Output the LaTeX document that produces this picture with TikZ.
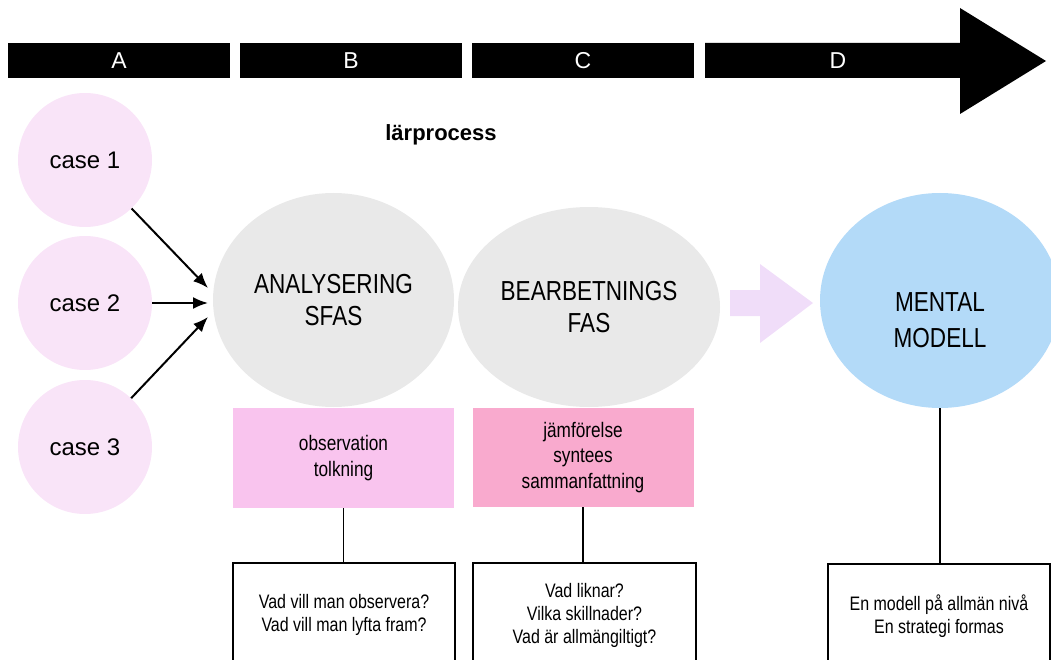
\documentclass[tikz,border=0pt]{standalone}
\usepackage{fontspec}
\setmainfont{Liberation Sans}
\newfontfamily\narrowfont[FakeStretch=0.82]{Liberation Sans}
\usetikzlibrary{positioning,shapes.geometric,arrows.meta}

\definecolor{casepink}{HTML}{F9E4F8}
\definecolor{stagegray}{HTML}{E9E9E9}
\definecolor{modelblue}{HTML}{B3DAF8}
\definecolor{flowlilac}{HTML}{F0DDF9}
\definecolor{taskpink}{HTML}{F9C4EE}
\definecolor{taskrose}{HTML}{F9AACE}

\begin{document}
\begin{tikzpicture}[x=1pt, y=-1pt,
    phase/.style={rectangle, fill=black, text=white, minimum width=222pt, minimum height=35pt, inner sep=0pt, font=\fontsize{23}{23}\selectfont},
    casenode/.style={circle, fill=casepink, minimum size=134pt, inner sep=0pt, font=\fontsize{24}{24}\selectfont},
    stage/.style={ellipse, inner sep=0pt, align=center, font=\narrowfont\fontsize{27.5}{32}\selectfont},
    task/.style={rectangle, minimum width=221pt, minimum height=100pt, inner sep=0pt, align=center, font=\narrowfont\fontsize{21}{25.5}\selectfont},
    question/.style={rectangle, draw=black, line width=2pt, minimum width=222pt, minimum height=104pt, anchor=north, align=center, font=\narrowfont\fontsize{19.5}{23}\selectfont},
    inflow/.style={-{Latex[length=15pt,width=12pt]}, line width=2pt}]
    \useasboundingbox (0,0) rectangle (1051,660);
    \clip (0,0) rectangle (1051,660);

    % time line A-D
    \node (barA) [phase] at (119,60.5) {A};
    \node (barB) [phase, right=232pt of barA.center, anchor=center] {B};
    \node (barC) [phase, right=232pt of barB.center, anchor=center] {C};
    \fill (705,43) -- (960,43) -- (960,8) -- (1046,61) -- (960,114) -- (960,78) -- (705,78) -- cycle;
    \node (barD) [text=white, font=\fontsize{23}{23}\selectfont] at (838,60.5) {D};

    \node (title) [font=\bfseries\fontsize{22}{22}\selectfont] at (441,135) {lärprocess};

    % cases
    \node (case1) [casenode] at (85,160) {case 1};
    \node (case2) [casenode, below=143pt of case1.center, anchor=center] {case 2};
    \node (case3) [casenode, below=144pt of case2.center, anchor=center] {case 3};
    \coordinate (in1) at (208,288);
    \coordinate (in2) at (208,303);
    \coordinate (in3) at (208,317);
    \draw[inflow] (case1) -- (in1);
    \draw[inflow] (case2) -- (in2);
    \draw[inflow] (case3) -- (in3);

    % phases
    \node (analys) [stage, fill=stagegray, minimum width=241pt, minimum height=214pt] at (333.5,300) {ANALYSERING\\SFAS};
    \node (bearb) [stage, fill=stagegray, minimum width=262pt, minimum height=200pt] at (589,307) {BEARBETNINGS\\FAS};
    \fill[flowlilac] (730,290) -- (760,290) -- (760,264) -- (813,303) -- (760,343) -- (760,316) -- (730,316) -- cycle;
    \node (mental) [stage, fill=modelblue, minimum width=240pt, minimum height=215pt,
        label={[stage, font=\narrowfont\fontsize{27.5}{36}\selectfont, yshift=-19.5pt]center:MENTAL\\MODELL}] at (940,300.5) {};

    % activities
    \node (obs) [task, fill=taskpink] at (343.5,458) {observation\\tolkning};
    \node (synt) [task, fill=taskrose, minimum height=99pt] at (583,457.5) {jämförelse\\syntees\\sammanfattning};

    % questions
    \node (q1) [question] at (344,562) {Vad vill man observera?\\Vad vill man lyfta fram?};
    \node (q2) [question, minimum width=223pt] at (584.5,562) {Vad liknar?\\Vilka skillnader?\\Vad är allmängiltigt?};
    \node (q3) [question] at (939,563) {En modell på allmän nivå\\En strategi formas};

    \draw[line width=1.5pt] (obs.south) -- (obs.south |- q1.north);
    \draw[line width=1.5pt] (synt.south) -- (synt.south |- q2.north);
    \draw[line width=2pt] (mental.south) -- (mental.south |- q3.north);
\end{tikzpicture}
\end{document}
